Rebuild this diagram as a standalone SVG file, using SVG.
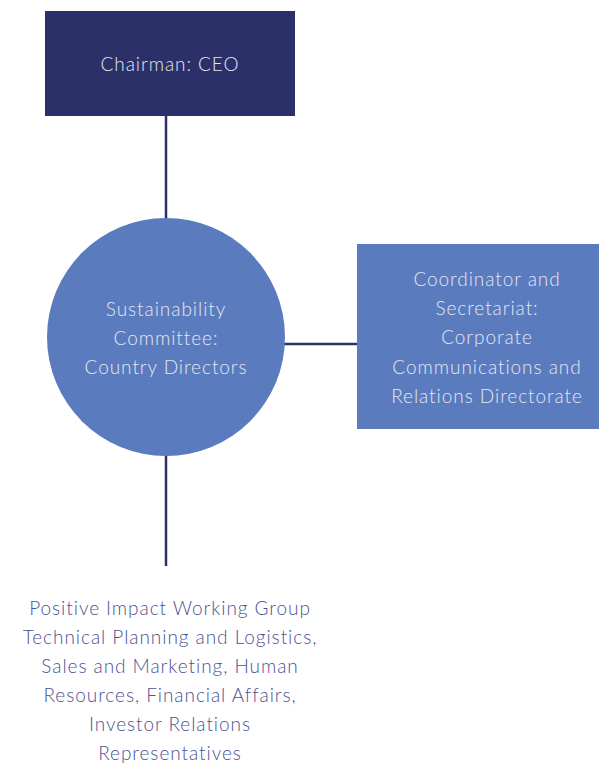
<svg xmlns="http://www.w3.org/2000/svg" width="599" height="767" viewBox="0 0 599 767">
<style>
text{font-family:"Lato","Open Sans","DejaVu Sans",sans-serif;font-weight:300;font-size:19px;letter-spacing:0.95px;text-anchor:middle}
.lt{fill:#e4e7f4}
.dk{fill:#4b5292}
.ln{stroke:#2b3068;stroke-width:2.5;fill:none}
</style>
<g id="connectors">
<line class="ln" x1="166" y1="116" x2="166" y2="220"/>
<line class="ln" x1="283" y1="344" x2="358" y2="344"/>
<line class="ln" x1="166" y1="454" x2="166" y2="566"/>
</g>
<g id="ceo">
<rect x="45" y="11" width="250" height="105" fill="#2b3068"/>
<text class="lt" x="170" y="71">Chairman: CEO</text>
</g>
<g id="committee">
<circle cx="166" cy="337" r="119" fill="#5a7bbd"/>
<text class="lt" x="166" y="316">Sustainability</text>
<text class="lt" x="166" y="345">Committee:</text>
<text class="lt" x="166" y="374">Country Directors</text>
</g>
<g id="coordinator">
<rect x="357" y="244" width="242" height="185" fill="#5a7bbd"/>
<text class="lt" x="487" y="286">Coordinator and</text>
<text class="lt" x="487" y="315">Secretariat:</text>
<text class="lt" x="487" y="344">Corporate</text>
<text class="lt" x="487" y="374">Communications and</text>
<text class="lt" x="487" y="403">Relations Directorate</text>
</g>
<g id="working-group">
<text class="dk" x="170" y="615">Positive Impact Working Group</text>
<text class="dk" x="170" y="644">Technical Planning and Logistics,</text>
<text class="dk" x="170" y="673">Sales and Marketing, Human</text>
<text class="dk" x="170" y="702">Resources, Financial Affairs,</text>
<text class="dk" x="170" y="731">Investor Relations</text>
<text class="dk" x="170" y="760">Representatives</text>
</g>
</svg>
